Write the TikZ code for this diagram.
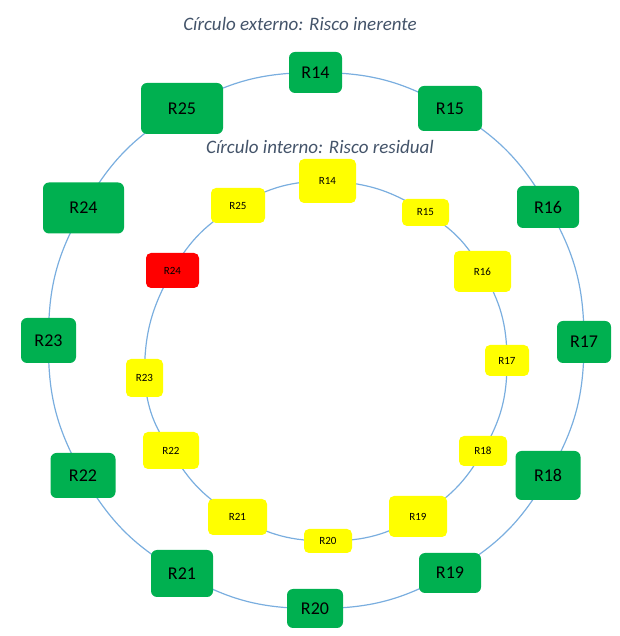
\documentclass[tikz,border=0pt]{standalone}
\usepackage{fontspec}
\setmainfont{Carlito}
\usepackage{tikz}
\usetikzlibrary{positioning,calc,backgrounds}
\definecolor{riskgreen}{HTML}{00B050}
\definecolor{riskyellow}{HTML}{FFFF00}
\definecolor{riskred}{HTML}{FF0000}
\definecolor{ringblue}{HTML}{7AAEDF}
\definecolor{titlegrey}{HTML}{44546A}
\tikzstyle{outbox} = [rectangle, rounded corners=6pt, fill=riskgreen, text centered, outer sep=0pt, inner sep=0pt, font=\fontsize{18}{18}\selectfont]
\tikzstyle{inbox} = [rectangle, rounded corners=5pt, fill=riskyellow, text centered, outer sep=0pt, inner sep=0pt, font=\fontsize{11}{11}\selectfont]
\tikzstyle{ring} = [draw=ringblue, line width=1.2pt]
\tikzstyle{caption} = [font=\fontsize{19}{19}\selectfont\itshape, text=titlegrey]

\begin{document}
\begin{tikzpicture}[x=1pt,y=1pt]
    \useasboundingbox (0,0) rectangle (619,636);
    \node[caption] (titleout) at (300,612) {Círculo externo: Risco inerente};
    \node[caption] (titlein) at (320,489) {Círculo interno: Risco residual};

    % outer circle: inherent risk
    \node[outbox, minimum width=53pt, minimum height=41pt] (o14) at (315.5,563.5) {R14};
    \node[outbox, minimum width=64pt, minimum height=45pt] (o15) at (450,527.5) {R15};
    \node[outbox, minimum width=62pt, minimum height=42pt] (o16) at (548,429) {R16};
    \node[outbox, minimum width=54pt, minimum height=42pt] (o17) at (584,294) {R17};
    \node[outbox, minimum width=65pt, minimum height=49pt] (o18) at (548,160.5) {R18};
    \node[outbox, minimum width=62pt, minimum height=40pt] (o19) at (450,63) {R19};
    \node[outbox, minimum width=56pt, minimum height=39pt] (o20) at (315,27.5) {R20};
    \node[outbox, minimum width=62pt, minimum height=47pt] (o21) at (182,62.5) {R21};
    \node[outbox, minimum width=65pt, minimum height=45pt] (o22) at (83,160.5) {R22};
    \node[outbox, minimum width=55pt, minimum height=45pt] (o23) at (48.5,295.5) {R23};
    \node[outbox, minimum width=81pt, minimum height=51pt] (o24) at (83.5,428) {R24};
    \node[outbox, minimum width=82pt, minimum height=51pt] (o25) at (182,527.5) {R25};

    % inner circle: residual risk
    \node[inbox, minimum width=57pt, minimum height=44pt] (i14) at (327.5,455) {R14};
    \node[inbox, minimum width=47pt, minimum height=27pt] (i15) at (425.5,423.5) {R15};
    \node[inbox, minimum width=57pt, minimum height=41pt] (i16) at (482.5,364.5) {R16};
    \node[inbox, minimum width=44pt, minimum height=31pt] (i17) at (507,275.5) {R17};
    \node[inbox, minimum width=48pt, minimum height=30pt] (i18) at (483,185) {R18};
    \node[inbox, minimum width=58pt, minimum height=41pt] (i19) at (418,119.5) {R19};
    \node[inbox, minimum width=48pt, minimum height=24pt] (i20) at (328,95) {R20};
    \node[inbox, minimum width=59pt, minimum height=36pt] (i21) at (237.5,119) {R21};
    \node[inbox, minimum width=56pt, minimum height=37pt] (i22) at (171,185.5) {R22};
    \node[inbox, minimum width=37pt, minimum height=38pt] (i23) at (144.5,258) {R23};
    \node[inbox, fill=riskred, minimum width=53pt, minimum height=35pt] (i24) at (172.5,365.5) {R24};
    \node[inbox, minimum width=54pt, minimum height=35pt] (i25) at (238,430.5) {R25};

    % rings run behind the boxes
    \begin{pgfonlayer}{background}
    \path[ring] (o14.center) edge[bend left=15] (o15.center);
    \path[ring] (o15.center) edge[bend left=15] (o16.center);
    \path[ring] (o16.center) edge[bend left=15] (o17.center);
    \path[ring] (o17.center) edge[bend left=15] (o18.center);
    \path[ring] (o18.center) edge[bend left=15] (o19.center);
    \path[ring] (o19.center) edge[bend left=15] (o20.center);
    \path[ring] (o20.center) edge[bend left=15] (o21.center);
    \path[ring] (o21.center) edge[bend left=15] (o22.center);
    \path[ring] (o22.center) edge[bend left=15] (o23.center);
    \path[ring] (o23.center) edge[bend left=15] (o24.center);
    \path[ring] (o24.center) edge[bend left=15] (o25.center);
    \path[ring] (o25.center) edge[bend left=15] (o14.center);

    \path[ring] (i14.center) edge[bend left=15] (i15.center);
    \path[ring] (i15.center) edge[bend left=15] (i16.center);
    \path[ring] (i16.center) edge[bend left=15] (i17.center);
    \path[ring] (i17.center) edge[bend left=15] (i18.center);
    \path[ring] (i18.center) edge[bend left=15] (i19.center);
    \path[ring] (i19.center) edge[bend left=15] (i20.center);
    \path[ring] (i20.center) edge[bend left=15] (i21.center);
    \path[ring] (i21.center) edge[bend left=15] (i22.center);
    \path[ring] (i22.center) edge[bend left=15] (i23.center);
    \path[ring] (i23.center) edge[bend left=15] (i24.center);
    \path[ring] (i24.center) edge[bend left=15] (i25.center);
    \path[ring] (i25.center) edge[bend left=15] (i14.center);
    \end{pgfonlayer}

\end{tikzpicture}
\end{document}
